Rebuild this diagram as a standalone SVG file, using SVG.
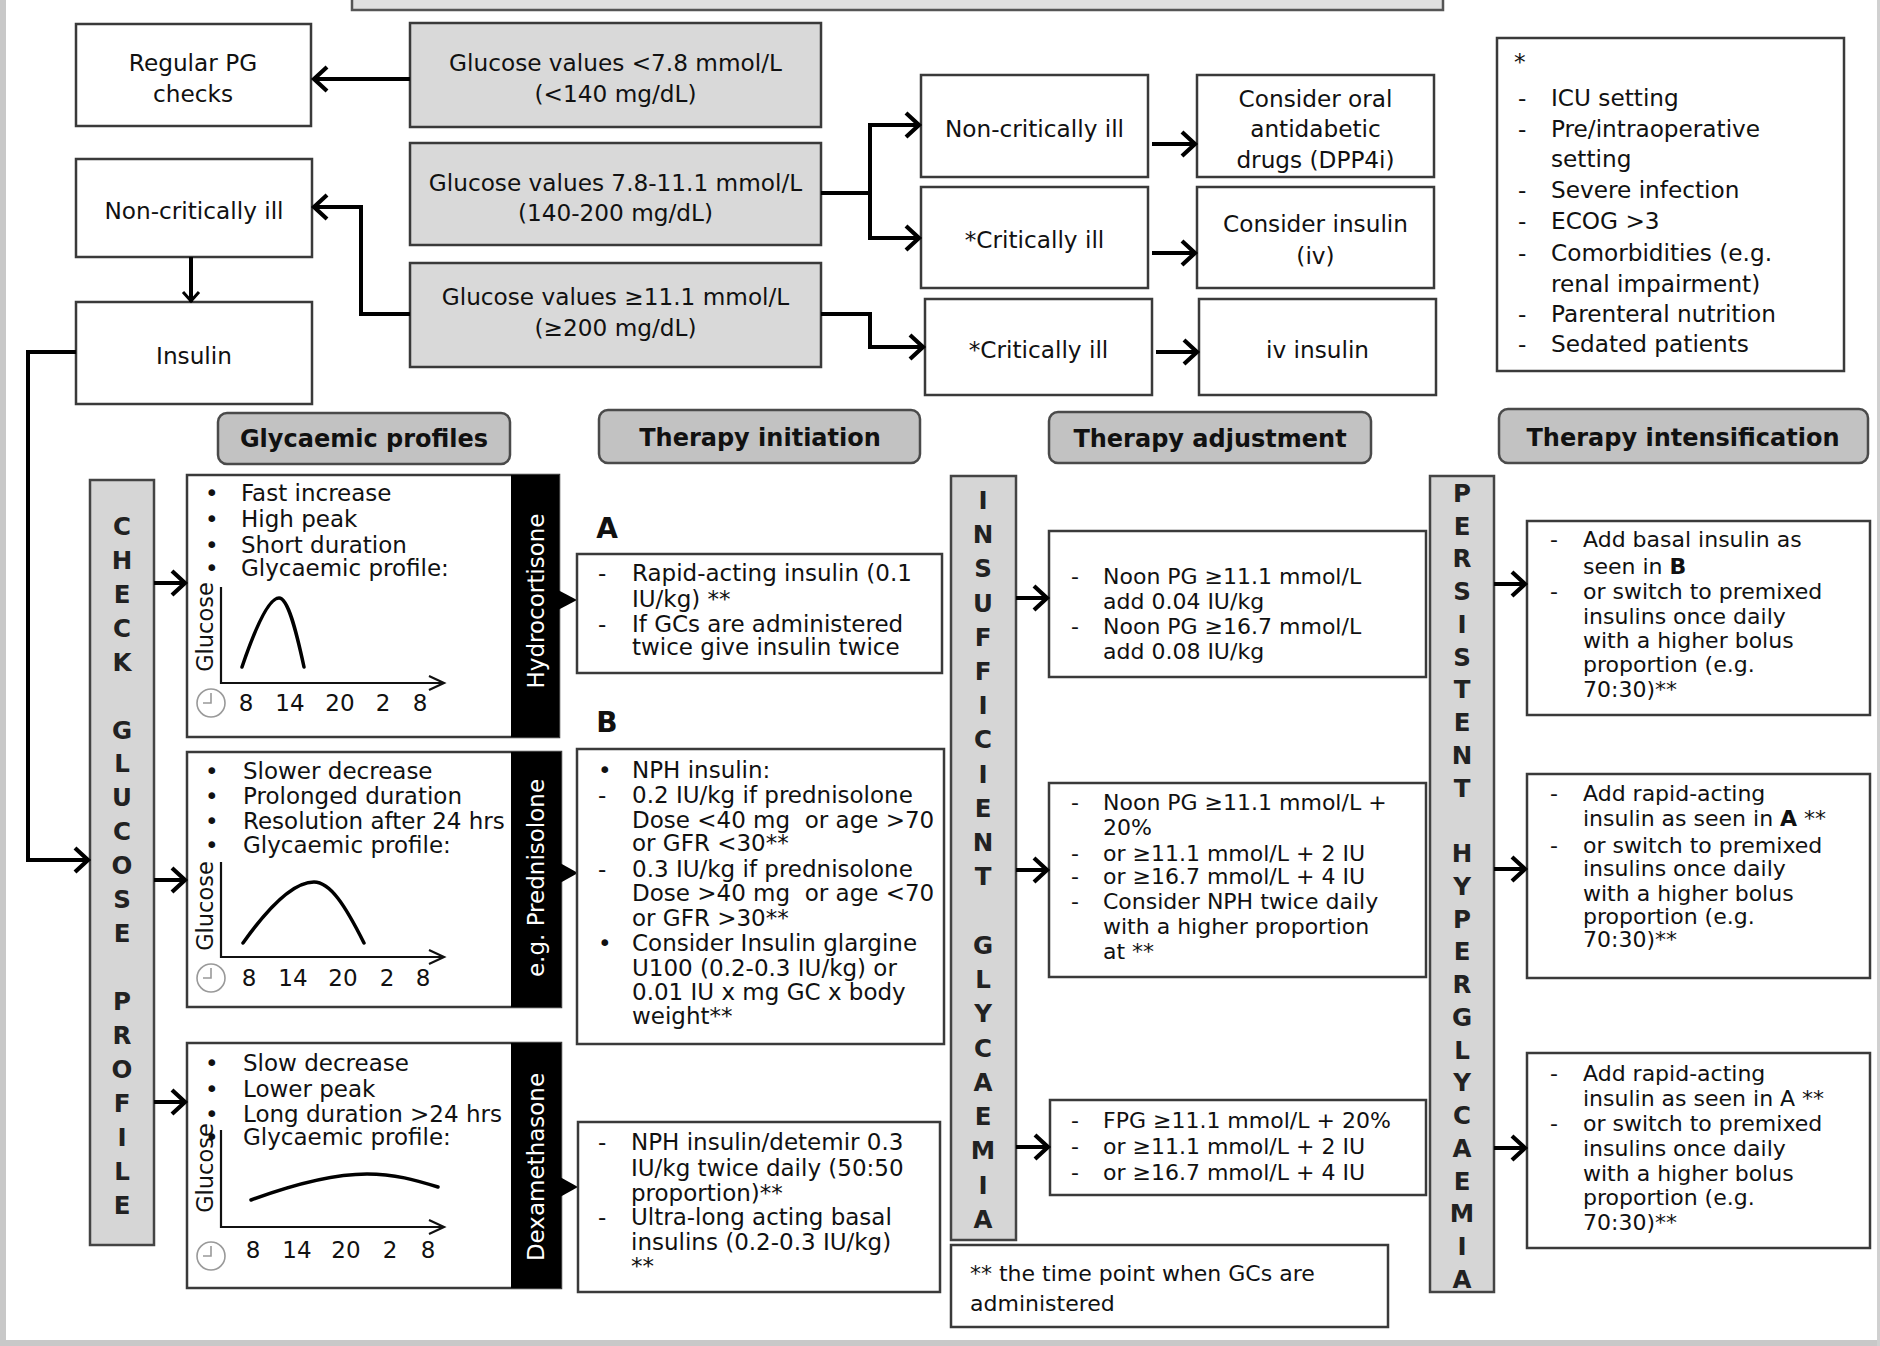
<svg xmlns="http://www.w3.org/2000/svg" width="1880" height="1346" viewBox="0 0 1880 1346">
<style>
.bx{fill:#fff;stroke:#3a3a3a;stroke-width:2.5}
.gbx{fill:#d9d9d9;stroke:#3a3a3a;stroke-width:2.5}
.col{fill:#d6d6d6;stroke:#444;stroke-width:2.5}
.hd{fill:#c2c2c2;stroke:#4a4a4a;stroke-width:2.5}
text{font-family:"DejaVu Sans","Liberation Sans",sans-serif;fill:#111}
.c{text-anchor:middle}
.b{font-weight:bold}
.top{font-size:23.2px}
.p{font-size:23px}
.s{font-size:22px}
.lt{font-size:24.5px;font-weight:bold;text-anchor:middle;fill:#222}
.wt{font-size:23px;fill:#fff;text-anchor:middle}
.gl{font-size:22.5px;text-anchor:middle}
.conn path{fill:none;stroke:#000;stroke-width:4}
.thin{fill:none;stroke:#111;stroke-width:2.2}
.curve{fill:none;stroke:#000;stroke-width:3.5;stroke-linecap:round}
.clk{fill:none;stroke:#999;stroke-width:1.6}
</style>
<defs>
<marker id="ah" markerUnits="userSpaceOnUse" viewBox="0 0 20 28" refX="17" refY="14" markerWidth="20" markerHeight="28" orient="auto"><path d="M3,2 L16,14 L3,26" fill="none" stroke="#000" stroke-width="4.2"/></marker>
<marker id="ahs" markerUnits="userSpaceOnUse" viewBox="0 0 14 20" refX="12" refY="10" markerWidth="14" markerHeight="20" orient="auto"><path d="M2,2 L11,10 L2,18" fill="none" stroke="#000" stroke-width="3"/></marker>
</defs>
<rect x="0" y="0" width="1880" height="1346" fill="#fff"/>
<rect x="0" y="0" width="6" height="1346" fill="#c8c8c8"/>
<rect x="0" y="1340" width="1880" height="6" fill="#c8c8c8"/>
<rect x="1877" y="0" width="3" height="1346" fill="#d0d0d0"/>

<g id="top-box"><rect x="352" y="-10" width="1091" height="20" fill="#e0e0e0" stroke="#555" stroke-width="2.5"/></g>

<g id="regular-pg"><rect class="bx" x="76" y="24" width="235" height="102"/><text class="top c" x="193" y="70.5">Regular PG</text><text class="top c" x="193" y="101.5">checks</text></g>
<g id="glucose-low"><rect class="gbx" x="410" y="23" width="411" height="104"/><text class="top c" x="615.5" y="70.5">Glucose values &lt;7.8 mmol/L</text><text class="top c" x="615.5" y="101.5">(&lt;140 mg/dL)</text></g>
<g id="glucose-mid"><rect class="gbx" x="410" y="143" width="411" height="102"/><text class="top c" x="615.5" y="190.5">Glucose values 7.8-11.1 mmol/L</text><text class="top c" x="615.5" y="220.5">(140-200 mg/dL)</text></g>
<g id="glucose-high"><rect class="gbx" x="410" y="263" width="411" height="104"/><text class="top c" x="615.5" y="304.5">Glucose values ≥11.1 mmol/L</text><text class="top c" x="615.5" y="335.5">(≥200 mg/dL)</text></g>
<g id="noncrit-left"><rect class="bx" x="76" y="159" width="236" height="98"/><text class="top c" x="194" y="218.5">Non-critically ill</text></g>
<g id="insulin"><rect class="bx" x="76" y="302" width="236" height="102"/><text class="top c" x="194" y="363.5">Insulin</text></g>
<g id="noncrit-right"><rect class="bx" x="921" y="75" width="227" height="102"/><text class="top c" x="1034.5" y="136.5">Non-critically ill</text></g>
<g id="oral"><rect class="bx" x="1197" y="75" width="237" height="102"/><text class="top c" x="1315.5" y="106.5">Consider oral</text><text class="top c" x="1315.5" y="136.5">antidabetic</text><text class="top c" x="1315.5" y="167.5">drugs (DPP4i)</text></g>
<g id="crit1"><rect class="bx" x="921" y="187" width="227" height="101"/><text class="top c" x="1034.5" y="247.5">*Critically ill</text></g>
<g id="consider-iv"><rect class="bx" x="1197" y="187" width="237" height="101"/><text class="top c" x="1315.5" y="231.5">Consider insulin</text><text class="top c" x="1315.5" y="263.5">(iv)</text></g>
<g id="crit2"><rect class="bx" x="925" y="299" width="227" height="96"/><text class="top c" x="1038.5" y="357.5">*Critically ill</text></g>
<g id="iv-insulin"><rect class="bx" x="1199" y="299" width="237" height="96"/><text class="top c" x="1317.5" y="357.5">iv insulin</text></g>
<g id="note"><rect class="bx" x="1497" y="38" width="347" height="333"/>
<text class="top" x="1514" y="70">*</text>
<text class="top" x="1518" y="105.5">-</text><text class="top" x="1551" y="105.5">ICU setting</text>
<text class="top" x="1518" y="136.5">-</text><text class="top" x="1551" y="136.5">Pre/intraoperative</text>
<text class="top" x="1551" y="166.5">setting</text>
<text class="top" x="1518" y="197.5">-</text><text class="top" x="1551" y="197.5">Severe infection</text>
<text class="top" x="1518" y="228.5">-</text><text class="top" x="1551" y="228.5">ECOG &gt;3</text>
<text class="top" x="1518" y="260.5">-</text><text class="top" x="1551" y="260.5">Comorbidities (e.g.</text>
<text class="top" x="1551" y="291.5">renal impairment)</text>
<text class="top" x="1518" y="321.5">-</text><text class="top" x="1551" y="321.5">Parenteral nutrition</text>
<text class="top" x="1518" y="351.5">-</text><text class="top" x="1551" y="351.5">Sedated patients</text>
</g>

<g id="hdr-profiles"><rect class="hd" x="218" y="413" width="292" height="51" rx="9"/><text class="c b" font-size="24" x="364" y="447">Glycaemic profiles</text></g>
<g id="hdr-initiation"><rect class="hd" x="599" y="410" width="321" height="53" rx="9"/><text class="c b" font-size="24" x="760" y="446">Therapy initiation</text></g>
<g id="hdr-adjustment"><rect class="hd" x="1049" y="412" width="322" height="51" rx="9"/><text class="c b" font-size="24" x="1210" y="447">Therapy adjustment</text></g>
<g id="hdr-intensification"><rect class="hd" x="1499" y="409" width="369" height="54" rx="9"/><text class="c b" font-size="24" x="1683" y="446">Therapy intensification</text></g>

<g id="check-column"><rect class="col" x="90" y="480" width="64" height="765"/>
<text class="lt" x="122" y="534.8">C</text><text class="lt" x="122" y="568.7">H</text><text class="lt" x="122" y="602.7">E</text><text class="lt" x="122" y="636.6">C</text><text class="lt" x="122" y="670.6">K</text>
<text class="lt" x="122" y="738.5">G</text><text class="lt" x="122" y="772.4">L</text><text class="lt" x="122" y="806.4">U</text><text class="lt" x="122" y="840.3">C</text><text class="lt" x="122" y="874.3">O</text><text class="lt" x="122" y="908.2">S</text><text class="lt" x="122" y="942.2">E</text>
<text class="lt" x="122" y="1010.1">P</text><text class="lt" x="122" y="1044">R</text><text class="lt" x="122" y="1078">O</text><text class="lt" x="122" y="1111.9">F</text><text class="lt" x="122" y="1145.9">I</text><text class="lt" x="122" y="1179.8">L</text><text class="lt" x="122" y="1213.8">E</text>
</g>

<g id="profile-hydrocortisone"><rect class="bx" x="187" y="475" width="372" height="262"/><rect x="511" y="475" width="48" height="262" fill="#000"/>
<polygon points="558,590 577,600 558,610" fill="#000"/>
<text class="wt" transform="translate(543.5,601) rotate(-90)">Hydrocortisone</text>
<text class="p" x="205" y="501">•</text><text class="p" x="241" y="501">Fast increase</text>
<text class="p" x="205" y="527">•</text><text class="p" x="241" y="527">High peak</text>
<text class="p" x="205" y="553">•</text><text class="p" x="241" y="553">Short duration</text>
<text class="p" x="205" y="576">•</text><text class="p" x="241" y="576">Glycaemic profile:</text>
<text class="gl" transform="translate(212.5,627) rotate(-90)">Glucose</text>
<path class="thin" d="M221,587 V683 H444 M429,676 L444,683 L429,690"/>
<path class="curve" d="M242,667 C258,620 270,598 279,598 C288,598 296,630 304,667"/>
<circle class="clk" cx="211" cy="703" r="14"/><path class="clk" d="M211,693 V703 H203"/>
<text class="p c" x="246" y="711">8</text><text class="p c" x="290" y="711">14</text><text class="p c" x="340" y="711">20</text><text class="p c" x="383" y="711">2</text><text class="p c" x="420" y="711">8</text>
</g>

<g id="profile-prednisolone"><rect class="bx" x="187" y="752" width="374" height="255"/><rect x="511" y="752" width="50" height="255" fill="#000"/>
<polygon points="560,863 578,873 560,883" fill="#000"/>
<text class="wt" transform="translate(544,878) rotate(-90)">e.g. Prednisolone</text>
<text class="p" x="205" y="779">•</text><text class="p" x="243" y="779">Slower decrease</text>
<text class="p" x="205" y="804">•</text><text class="p" x="243" y="804">Prolonged duration</text>
<text class="p" x="205" y="829">•</text><text class="p" x="243" y="829">Resolution after 24 hrs</text>
<text class="p" x="205" y="853">•</text><text class="p" x="243" y="853">Glycaemic profile:</text>
<text class="gl" transform="translate(212.5,906) rotate(-90)">Glucose</text>
<path class="thin" d="M221,862 V957 H444 M429,950 L444,957 L429,964"/>
<path class="curve" d="M243,943 C270,905 295,882 314,882 C330,882 345,905 364,943"/>
<circle class="clk" cx="211" cy="978" r="14"/><path class="clk" d="M211,968 V978 H203"/>
<text class="p c" x="249" y="986">8</text><text class="p c" x="293" y="986">14</text><text class="p c" x="343" y="986">20</text><text class="p c" x="387" y="986">2</text><text class="p c" x="423" y="986">8</text>
</g>

<g id="profile-dexamethasone"><rect class="bx" x="187" y="1043" width="374" height="245"/><rect x="511" y="1043" width="50" height="245" fill="#000"/>
<polygon points="560,1177 578,1187 560,1197" fill="#000"/>
<text class="wt" transform="translate(544,1167) rotate(-90)">Dexamethasone</text>
<text class="p" x="205" y="1071">•</text><text class="p" x="243" y="1071">Slow decrease</text>
<text class="p" x="205" y="1097">•</text><text class="p" x="243" y="1097">Lower peak</text>
<text class="p" x="205" y="1122">•</text><text class="p" x="243" y="1122">Long duration &gt;24 hrs</text>
<text class="p" x="205" y="1145">•</text><text class="p" x="243" y="1145">Glycaemic profile:</text>
<text class="gl" transform="translate(212.5,1168) rotate(-90)">Glucose</text>
<path class="thin" d="M221,1130 V1227 H444 M429,1220 L444,1227 L429,1234"/>
<path class="curve" d="M251,1200 C300,1182 340,1174 367,1174 C395,1174 415,1180 438,1187"/>
<circle class="clk" cx="211" cy="1256" r="14"/><path class="clk" d="M211,1246 V1256 H203"/>
<text class="p c" x="253" y="1258">8</text><text class="p c" x="297" y="1258">14</text><text class="p c" x="346" y="1258">20</text><text class="p c" x="390" y="1258">2</text><text class="p c" x="428" y="1258">8</text>
</g>

<g id="label-A"><text class="b c" font-size="28" x="607" y="538">A</text></g>
<g id="label-B"><text class="b c" font-size="28" x="607" y="732">B</text></g>

<g id="init-A"><rect class="bx" x="577" y="554" width="365" height="119"/>
<text class="p" x="598" y="581">-</text><text class="p" x="632" y="581">Rapid-acting insulin (0.1</text>
<text class="p" x="632" y="607">IU/kg) **</text>
<text class="p" x="598" y="632">-</text><text class="p" x="632" y="632">If GCs are administered</text>
<text class="p" x="632" y="655">twice give insulin twice</text>
</g>

<g id="init-B"><rect class="bx" x="577" y="749" width="367" height="295"/>
<text class="p" x="598" y="778">•</text><text class="p" x="632" y="778">NPH insulin:</text>
<text class="p" x="598" y="803">-</text><text class="p" x="632" y="803">0.2 IU/kg if prednisolone</text>
<text class="p" x="632" y="828" style="white-space:pre">Dose &lt;40 mg  or age &gt;70</text>
<text class="p" x="632" y="851">or GFR &lt;30**</text>
<text class="p" x="598" y="877">-</text><text class="p" x="632" y="877">0.3 IU/kg if prednisolone</text>
<text class="p" x="632" y="901" style="white-space:pre">Dose &gt;40 mg  or age &lt;70</text>
<text class="p" x="632" y="926">or GFR &gt;30**</text>
<text class="p" x="598" y="951">•</text><text class="p" x="632" y="951">Consider Insulin glargine</text>
<text class="p" x="632" y="976">U100 (0.2-0.3 IU/kg) or</text>
<text class="p" x="632" y="1000">0.01 IU x mg GC x body</text>
<text class="p" x="632" y="1024">weight**</text>
</g>

<g id="init-C"><rect class="bx" x="578" y="1122" width="362" height="170"/>
<text class="p" x="598" y="1150">-</text><text class="p" x="631" y="1150">NPH insulin/detemir 0.3</text>
<text class="p" x="631" y="1176">IU/kg twice daily (50:50</text>
<text class="p" x="631" y="1201">proportion)**</text>
<text class="p" x="598" y="1225">-</text><text class="p" x="631" y="1225">Ultra-long acting basal</text>
<text class="p" x="631" y="1250">insulins (0.2-0.3 IU/kg)</text>
<text class="p" x="631" y="1274">**</text>
</g>

<g id="insufficient-column"><rect class="col" x="951" y="476" width="65" height="764"/>
<text class="lt" x="983" y="508.8">I</text><text class="lt" x="983" y="543">N</text><text class="lt" x="983" y="577.2">S</text><text class="lt" x="983" y="611.5">U</text><text class="lt" x="983" y="645.7">F</text><text class="lt" x="983" y="680">F</text><text class="lt" x="983" y="714.2">I</text><text class="lt" x="983" y="748.4">C</text><text class="lt" x="983" y="782.7">I</text><text class="lt" x="983" y="816.9">E</text><text class="lt" x="983" y="851.2">N</text><text class="lt" x="983" y="885.4">T</text>
<text class="lt" x="983" y="953.9">G</text><text class="lt" x="983" y="988.1">L</text><text class="lt" x="983" y="1022.4">Y</text><text class="lt" x="983" y="1056.6">C</text><text class="lt" x="983" y="1090.8">A</text><text class="lt" x="983" y="1125.1">E</text><text class="lt" x="983" y="1159.3">M</text><text class="lt" x="983" y="1193.6">I</text><text class="lt" x="983" y="1227.8">A</text>
</g>

<g id="adjust-1"><rect class="bx" x="1049" y="531" width="377" height="146"/>
<text class="s" x="1071" y="584">-</text><text class="s" x="1103" y="584">Noon PG ≥11.1 mmol/L</text>
<text class="s" x="1103" y="609">add 0.04 IU/kg</text>
<text class="s" x="1071" y="634">-</text><text class="s" x="1103" y="634">Noon PG ≥16.7 mmol/L</text>
<text class="s" x="1103" y="659">add 0.08 IU/kg</text>
</g>
<g id="adjust-2"><rect class="bx" x="1049" y="783" width="377" height="194"/>
<text class="s" x="1071" y="810">-</text><text class="s" x="1103" y="810">Noon PG ≥11.1 mmol/L +</text>
<text class="s" x="1103" y="835">20%</text>
<text class="s" x="1071" y="861">-</text><text class="s" x="1103" y="861">or ≥11.1 mmol/L + 2 IU</text>
<text class="s" x="1071" y="884">-</text><text class="s" x="1103" y="884">or ≥16.7 mmol/L + 4 IU</text>
<text class="s" x="1071" y="909">-</text><text class="s" x="1103" y="909">Consider NPH twice daily</text>
<text class="s" x="1103" y="934">with a higher proportion</text>
<text class="s" x="1103" y="959">at **</text>
</g>
<g id="adjust-3"><rect class="bx" x="1050" y="1100" width="376" height="95"/>
<text class="s" x="1071" y="1128">-</text><text class="s" x="1103" y="1128" font-size="21">FPG ≥11.1 mmol/L + 20%</text>
<text class="s" x="1071" y="1154">-</text><text class="s" x="1103" y="1154" font-size="21">or ≥11.1 mmol/L + 2 IU</text>
<text class="s" x="1071" y="1180">-</text><text class="s" x="1103" y="1180" font-size="21">or ≥16.7 mmol/L + 4 IU</text>
</g>

<g id="footnote"><rect class="bx" x="951" y="1245" width="437" height="82"/>
<text class="s" x="970" y="1281">** the time point when GCs are</text>
<text class="s" x="970" y="1311">administered</text>
</g>

<g id="persistent-column"><rect class="col" x="1430" y="476" width="64" height="816"/>
<text class="lt" x="1462" y="501.8">P</text><text class="lt" x="1462" y="534.5">E</text><text class="lt" x="1462" y="567.3">R</text><text class="lt" x="1462" y="600">S</text><text class="lt" x="1462" y="632.8">I</text><text class="lt" x="1462" y="665.5">S</text><text class="lt" x="1462" y="698.3">T</text><text class="lt" x="1462" y="731">E</text><text class="lt" x="1462" y="763.8">N</text><text class="lt" x="1462" y="796.5">T</text>
<text class="lt" x="1462" y="862">H</text><text class="lt" x="1462" y="894.8">Y</text><text class="lt" x="1462" y="927.5">P</text><text class="lt" x="1462" y="960.3">E</text><text class="lt" x="1462" y="993">R</text><text class="lt" x="1462" y="1025.8">G</text><text class="lt" x="1462" y="1058.5">L</text><text class="lt" x="1462" y="1091.3">Y</text><text class="lt" x="1462" y="1124">C</text><text class="lt" x="1462" y="1156.8">A</text><text class="lt" x="1462" y="1189.5">E</text><text class="lt" x="1462" y="1222.3">M</text><text class="lt" x="1462" y="1255">I</text><text class="lt" x="1462" y="1287.8">A</text>
</g>

<g id="intens-1"><rect class="bx" x="1527" y="521" width="343" height="194"/>
<text class="s" x="1550" y="547">-</text><text class="s" x="1583" y="547">Add basal insulin as</text>
<text class="s" x="1583" y="574">seen in <tspan class="b">B</tspan></text>
<text class="s" x="1550" y="599">-</text><text class="s" x="1583" y="599">or switch to premixed</text>
<text class="s" x="1583" y="624">insulins once daily</text>
<text class="s" x="1583" y="648">with a higher bolus</text>
<text class="s" x="1583" y="672">proportion (e.g.</text>
<text class="s" x="1583" y="697">70:30)**</text>
</g>
<g id="intens-2"><rect class="bx" x="1527" y="774" width="343" height="204"/>
<text class="s" x="1550" y="801">-</text><text class="s" x="1583" y="801">Add rapid-acting</text>
<text class="s" x="1583" y="826">insulin as seen in <tspan class="b">A</tspan> **</text>
<text class="s" x="1550" y="853">-</text><text class="s" x="1583" y="853">or switch to premixed</text>
<text class="s" x="1583" y="876">insulins once daily</text>
<text class="s" x="1583" y="901">with a higher bolus</text>
<text class="s" x="1583" y="924">proportion (e.g.</text>
<text class="s" x="1583" y="947">70:30)**</text>
</g>
<g id="intens-3"><rect class="bx" x="1527" y="1053" width="343" height="195"/>
<text class="s" x="1550" y="1081">-</text><text class="s" x="1583" y="1081">Add rapid-acting</text>
<text class="s" x="1583" y="1106">insulin as seen in A **</text>
<text class="s" x="1550" y="1131">-</text><text class="s" x="1583" y="1131">or switch to premixed</text>
<text class="s" x="1583" y="1156">insulins once daily</text>
<text class="s" x="1583" y="1181">with a higher bolus</text>
<text class="s" x="1583" y="1205">proportion (e.g.</text>
<text class="s" x="1583" y="1230">70:30)**</text>
</g>

<g id="connectors" class="conn">
<path d="M410,79 H313" marker-end="url(#ah)"/>
<path d="M410,314 H361 V207 H313" marker-end="url(#ah)"/>
<path d="M191,257 V302" stroke-width="3" marker-end="url(#ahs)"/>
<path d="M821,193 H870"/>
<path d="M870,193 V125 H920" marker-end="url(#ah)"/>
<path d="M870,193 V238 H920" marker-end="url(#ah)"/>
<path d="M821,314 H870 V347 H924" marker-end="url(#ah)"/>
<path d="M1152,144 H1196" marker-end="url(#ah)"/>
<path d="M1152,253 H1196" marker-end="url(#ah)"/>
<path d="M1156,352 H1198" marker-end="url(#ah)"/>
<path d="M76,352 H28 V860 H89" stroke-width="3.5" marker-end="url(#ah)"/>
<path d="M154,583 H186" marker-end="url(#ah)"/>
<path d="M154,880 H186" marker-end="url(#ah)"/>
<path d="M154,1102 H186" marker-end="url(#ah)"/>
<path d="M1016,598 H1048" marker-end="url(#ah)"/>
<path d="M1016,870 H1048" marker-end="url(#ah)"/>
<path d="M1016,1147 H1049" marker-end="url(#ah)"/>
<path d="M1494,584 H1526" marker-end="url(#ah)"/>
<path d="M1494,869 H1526" marker-end="url(#ah)"/>
<path d="M1494,1148 H1526" marker-end="url(#ah)"/>
</g>
</svg>
